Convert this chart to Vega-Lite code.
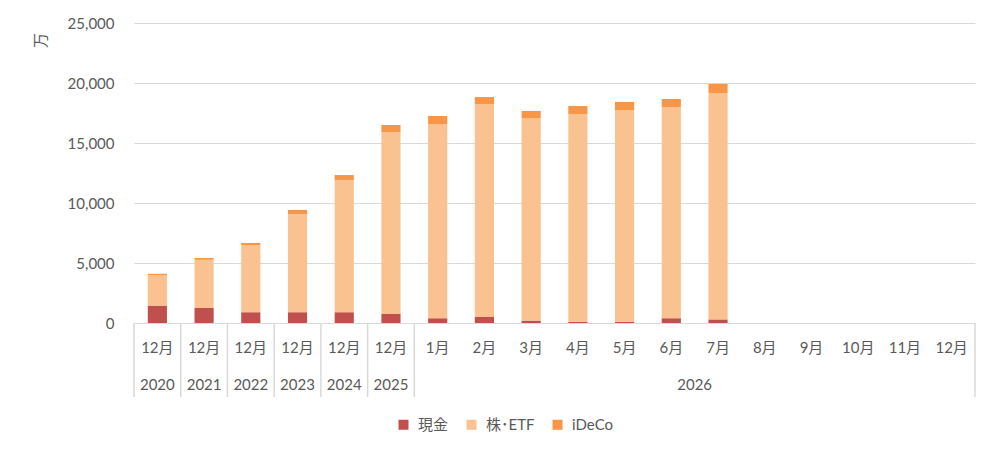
{
  "$schema": "https://vega.github.io/schema/vega-lite/v6.json",
  "padding": {"left": 33, "top": 16, "right": 24, "bottom": 0},
  "background": "white",
  "config": {
    "font": "Lato, Noto Sans CJK JP",
    "view": {"stroke": null},
    "axis": {"labelFont": "Lato, Noto Sans CJK JP", "labelColor": "#595959", "labelFontSize": 15},
    "legend": {"labelFont": "Lato, Noto Sans CJK JP", "labelColor": "#595959", "labelFontSize": 15}
  },
  "datasets": {
    "vals": [
      {"k": "2020-12", "cat": "現金", "v": 1450}, {"k": "2020-12", "cat": "株･ETF", "v": 2550}, {"k": "2020-12", "cat": "iDeCo", "v": 100},
      {"k": "2021-12", "cat": "現金", "v": 1250}, {"k": "2021-12", "cat": "株･ETF", "v": 4020}, {"k": "2021-12", "cat": "iDeCo", "v": 150},
      {"k": "2022-12", "cat": "現金", "v": 900}, {"k": "2022-12", "cat": "株･ETF", "v": 5600}, {"k": "2022-12", "cat": "iDeCo", "v": 170},
      {"k": "2023-12", "cat": "現金", "v": 900}, {"k": "2023-12", "cat": "株･ETF", "v": 8180}, {"k": "2023-12", "cat": "iDeCo", "v": 340},
      {"k": "2024-12", "cat": "現金", "v": 900}, {"k": "2024-12", "cat": "株･ETF", "v": 11020}, {"k": "2024-12", "cat": "iDeCo", "v": 410},
      {"k": "2025-12", "cat": "現金", "v": 750}, {"k": "2025-12", "cat": "株･ETF", "v": 15170}, {"k": "2025-12", "cat": "iDeCo", "v": 580},
      {"k": "2026-01", "cat": "現金", "v": 400}, {"k": "2026-01", "cat": "株･ETF", "v": 16180}, {"k": "2026-01", "cat": "iDeCo", "v": 670},
      {"k": "2026-02", "cat": "現金", "v": 500}, {"k": "2026-02", "cat": "株･ETF", "v": 17750}, {"k": "2026-02", "cat": "iDeCo", "v": 580},
      {"k": "2026-03", "cat": "現金", "v": 200}, {"k": "2026-03", "cat": "株･ETF", "v": 16880}, {"k": "2026-03", "cat": "iDeCo", "v": 590},
      {"k": "2026-04", "cat": "現金", "v": 100}, {"k": "2026-04", "cat": "株･ETF", "v": 17320}, {"k": "2026-04", "cat": "iDeCo", "v": 660},
      {"k": "2026-05", "cat": "現金", "v": 100}, {"k": "2026-05", "cat": "株･ETF", "v": 17650}, {"k": "2026-05", "cat": "iDeCo", "v": 670},
      {"k": "2026-06", "cat": "現金", "v": 400}, {"k": "2026-06", "cat": "株･ETF", "v": 17600}, {"k": "2026-06", "cat": "iDeCo", "v": 670},
      {"k": "2026-07", "cat": "現金", "v": 300}, {"k": "2026-07", "cat": "株･ETF", "v": 18870}, {"k": "2026-07", "cat": "iDeCo", "v": 750}
    ],
    "cats": [
      {"k": "2020-12", "m": "12月"}, {"k": "2021-12", "m": "12月"}, {"k": "2022-12", "m": "12月"},
      {"k": "2023-12", "m": "12月"}, {"k": "2024-12", "m": "12月"}, {"k": "2025-12", "m": "12月"},
      {"k": "2026-01", "m": "1月"}, {"k": "2026-02", "m": "2月"}, {"k": "2026-03", "m": "3月"},
      {"k": "2026-04", "m": "4月"}, {"k": "2026-05", "m": "5月"}, {"k": "2026-06", "m": "6月"},
      {"k": "2026-07", "m": "7月"}, {"k": "2026-08", "m": "8月"}, {"k": "2026-09", "m": "9月"},
      {"k": "2026-10", "m": "10月"}, {"k": "2026-11", "m": "11月"}, {"k": "2026-12", "m": "12月"}
    ],
    "years": [
      {"k": "2020-12", "yr": "2020", "span": "one"}, {"k": "2021-12", "yr": "2021", "span": "one"},
      {"k": "2022-12", "yr": "2022", "span": "one"}, {"k": "2023-12", "yr": "2023", "span": "one"},
      {"k": "2024-12", "yr": "2024", "span": "one"}, {"k": "2025-12", "yr": "2025", "span": "one"},
      {"k": "2026-07", "yr": "2026", "span": "many"}
    ],
    "seps": [
      {"k": "2020-12"}, {"k": "2021-12"}, {"k": "2022-12"}, {"k": "2023-12"},
      {"k": "2024-12"}, {"k": "2025-12"}, {"k": "2026-01"}
    ]
  },
  "vconcat": [
    {
      "width": 841,
      "height": 300,
      "data": {"name": "vals"},
      "mark": {"type": "bar"},
      "encoding": {
        "x": {
          "field": "k",
          "type": "nominal",
          "scale": {
            "domain": ["2020-12", "2021-12", "2022-12", "2023-12", "2024-12", "2025-12", "2026-01", "2026-02", "2026-03", "2026-04", "2026-05", "2026-06", "2026-07", "2026-08", "2026-09", "2026-10", "2026-11", "2026-12"],
            "paddingInner": 0.59,
            "paddingOuter": 0.295
          },
          "axis": null
        },
        "y": {
          "field": "v",
          "type": "quantitative",
          "aggregate": "sum",
          "stack": "zero",
          "scale": {"domain": [0, 25000], "nice": false},
          "axis": {
            "values": [0, 5000, 10000, 15000, 20000, 25000],
            "format": ",d",
            "domain": false,
            "ticks": false,
            "labelPadding": 20,
            "gridColor": "#d9d9d9",
            "gridWidth": 1,
            "title": "万",
            "titleFont": "Noto Sans CJK JP",
            "titleFontSize": 15,
            "titleFontWeight": "normal",
            "titleColor": "#595959",
            "titleAngle": 270,
            "titleX": -94,
            "titleY": 17,
            "titleAlign": "center",
            "titleBaseline": "middle"
          }
        },
        "color": {
          "field": "cat",
          "type": "nominal",
          "sort": ["現金", "株･ETF", "iDeCo"],
          "scale": {"domain": ["現金", "株･ETF", "iDeCo"], "range": ["#c0504d", "#f9c290", "#f79646"]},
          "legend": {
            "title": null,
            "orient": "none",
            "legendX": 262,
            "legendY": 394,
            "direction": "horizontal",
            "symbolType": "square",
            "symbolSize": 100,
            "symbolStrokeWidth": 0,
            "symbolOpacity": 1,
            "labelOffset": 7,
            "columnPadding": 15
          }
        },
        "order": {"field": "cat", "sort": "descending"}
      }
    },
    {
      "width": 841,
      "height": 74,
      "layer": [
        {
          "data": {"name": "seps"},
          "mark": {"type": "rule", "color": "#d9d9d9", "strokeWidth": 1.5},
          "encoding": {"x": {"field": "k", "type": "nominal", "bandPosition": 0, "axis": null}}
        },
        {
          "data": {"name": "cats"},
          "transform": [{"filter": "datum.k == '2026-12'"}],
          "mark": {"type": "rule", "color": "#d9d9d9", "strokeWidth": 1.5},
          "encoding": {"x": {"field": "k", "type": "nominal", "bandPosition": 1, "axis": null}}
        },
        {
          "data": {"name": "cats"},
          "mark": {"type": "text", "fontSize": 15, "color": "#595959", "baseline": "middle", "dy": 6},
          "encoding": {
            "x": {"field": "k", "type": "nominal", "axis": null},
            "y": {"datum": "m", "axis": null, "scale": {"domain": ["m", "y"]}},
            "text": {"field": "m"}
          }
        },
        {
          "data": {"name": "years"},
          "transform": [{"filter": "datum.span == 'one'"}],
          "mark": {"type": "text", "fontSize": 15, "color": "#595959", "baseline": "middle", "dy": 6},
          "encoding": {
            "x": {"field": "k", "type": "nominal", "axis": null},
            "y": {"datum": "y", "axis": null},
            "text": {"field": "yr"}
          }
        },
        {
          "data": {"name": "years"},
          "transform": [{"filter": "datum.span == 'many'"}],
          "mark": {"type": "text", "fontSize": 15, "color": "#595959", "baseline": "middle", "dy": 6},
          "encoding": {
            "x": {"field": "k", "type": "nominal", "bandPosition": 0, "axis": null},
            "y": {"datum": "y", "axis": null},
            "text": {"field": "yr"}
          }
        }
      ],
      "resolve": {"scale": {"x": "shared"}}
    }
  ],
  "spacing": 0,
  "bounds": "flush",
  "resolve": {"scale": {"x": "independent", "color": "shared"}}
}
